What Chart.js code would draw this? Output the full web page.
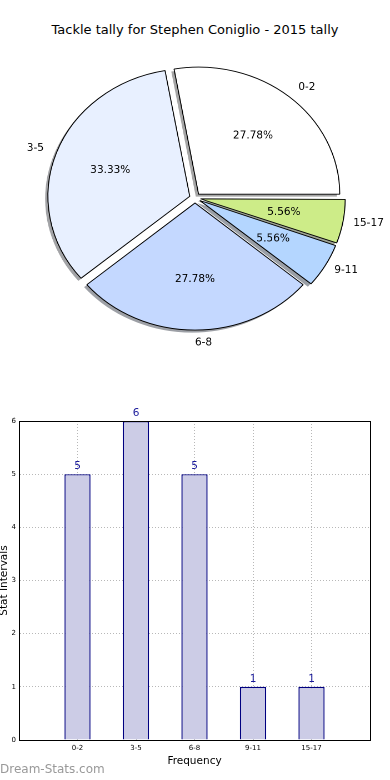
<!DOCTYPE html>
<html>
<head>
<meta charset="utf-8">
<script src="https://cdn.jsdelivr.net/npm/chart.js@4.4.0/dist/chart.umd.min.js"></script>
<style>
  body { margin: 0; background: #fff; width: 390px; height: 780px; position: relative; overflow: hidden; font-family: 'DejaVu Sans', sans-serif; }
  #titulo { position: absolute; left: 0; top: 21px; width: 390px; text-align: center; font-size: 13px; line-height: 18px; color: #000; }
  #pieBox { position: absolute; left: 0; top: 0; width: 351px; height: 400px; transform: scaleX(1.111); transform-origin: 0 0; }
  #barBox { position: absolute; left: 0; top: 400px; width: 390px; height: 380px; }
  #marca { position: absolute; left: 0; top: 762px; font-size: 12px; color: #999; }
</style>
</head>
<body>
<div id="titulo">Tackle tally for Stephen Coniglio - 2015 tally</div>
<div id="pieBox"><canvas id="pizza"></canvas></div>
<div id="barBox"><canvas id="barras"></canvas></div>
<div id="marca">Dream-Stats.com</div>
<script>
    const categorias = ['0-2', '3-5', '6-8', '9-11', '15-17'];
    const frequencias = [5, 6, 5, 1, 1];
    const coresPizza = ['#ffffff', '#e8f0ff', '#c4d8ff', '#b4d6ff', '#cdec88'];
    const ticksY = [0, 1, 2, 3, 4, 5, 6];

    const SX = 1.111; // pie is stretched horizontally like the original
    const OFFSET = 20; // chart.js divides arc offset by 4
    Chart.defaults.font.family = "'DejaVu Sans', sans-serif";
    Chart.defaults.color = '#000';

    // pie draws clockwise, the original goes counter-clockwise: reverse the order
    const ordemPizza = categorias.map((c, i) => i).reverse();
    const total = frequencias.reduce((a, b) => a + b, 0);

    function sombraDe(hex) {
      const n = parseInt(hex.slice(1), 16);
      const r = Math.round(((n >> 16) & 255) * 0.3), g = Math.round(((n >> 8) & 255) * 0.3), b = Math.round((n & 255) * 0.3);
      return `rgba(${r},${g},${b},0.5)`;
    }

    function textoReto(ctx, x, y, txt, align) {
      ctx.save();
      ctx.translate(x, y);
      ctx.scale(1 / SX, 1);
      ctx.textAlign = align;
      ctx.textBaseline = 'middle';
      ctx.fillText(txt, 0, 0);
      ctx.restore();
    }

    const sombraPizza = {
      id: 'sombraPizza',
      beforeDatasetsDraw(chart) {
        const ctx = chart.ctx;
        chart.getDatasetMeta(0).data.forEach((arc, i) => {
          const p = arc.getProps(['x', 'y', 'startAngle', 'endAngle', 'outerRadius', 'circumference'], true);
          const eff = arc.options.offset / 4;
          const meio = (p.startAngle + p.endAngle) / 2;
          const fix = 1 - Math.sin(Math.min(Math.PI, p.circumference));
          const cx = p.x + Math.cos(meio) * eff - 2.5, cy = p.y + Math.sin(meio) * eff + 2.5;
          ctx.save();
          ctx.fillStyle = sombraDe(arc.options.backgroundColor);
          ctx.beginPath();
          ctx.moveTo(cx, cy);
          ctx.arc(cx, cy, p.outerRadius + eff * fix, p.startAngle, p.endAngle);
          ctx.closePath();
          ctx.fill();
          ctx.restore();
        });
      }
    };

    const rotulosPizza = {
      id: 'rotulosPizza',
      afterDatasetsDraw(chart) {
        const ctx = chart.ctx;
        ctx.save();
        ctx.fillStyle = '#000';
        ctx.font = "10.5px 'DejaVu Sans'";
        chart.getDatasetMeta(0).data.forEach((arc, i) => {
          const p = arc.getProps(['x', 'y', 'startAngle', 'endAngle', 'outerRadius'], true);
          const eff = arc.options.offset / 4;
          const meio = (p.startAngle + p.endAngle) / 2;
          const cos = Math.cos(meio), sin = Math.sin(meio);
          const k = ordemPizza[i];
          const pct = (frequencias[k] / total * 100).toFixed(2) + '%';
          textoReto(ctx, p.x + cos * (p.outerRadius * 0.6 + eff), p.y + sin * (p.outerRadius * 0.6 + eff), pct, 'center');
          textoReto(ctx, p.x + cos * (p.outerRadius * 1.1 + eff), p.y + sin * (p.outerRadius * 1.1 + eff), categorias[k], cos >= -0.01 ? 'left' : 'right');
        });
        ctx.restore();
      }
    };

    new Chart(document.getElementById('pizza'), {
      type: 'pie',
      data: {
        labels: ordemPizza.map(i => categorias[i]),
        datasets: [{
          data: ordemPizza.map(i => frequencias[i]),
          backgroundColor: ordemPizza.map(i => coresPizza[i]),
          borderColor: '#000',
          borderWidth: 0.9,
          offset: OFFSET,
          rotation: 90,
          radius: 127
        }]
      },
      options: {
        responsive: true,
        maintainAspectRatio: false,
        animation: false,
        devicePixelRatio: 2,
        layout: { padding: { bottom: 4 } },
        plugins: { legend: { display: false }, tooltip: { enabled: false } }
      },
      plugins: [sombraPizza, rotulosPizza]
    });

    const moldura = {
      id: 'moldura',
      afterDraw(chart) {
        const { ctx, chartArea: a } = chart;
        ctx.save();
        ctx.strokeStyle = '#000';
        ctx.lineWidth = 1;
        ctx.strokeRect(Math.round(a.left) + 0.5, Math.round(a.top) + 0.5, Math.round(a.right - a.left), Math.round(a.bottom - a.top));
        ctx.restore();
      }
    };

    const valoresBarras = {
      id: 'valoresBarras',
      afterDatasetsDraw(chart) {
        const ctx = chart.ctx;
        ctx.save();
        ctx.fillStyle = '#1a1a9a';
        ctx.font = "10.5px 'DejaVu Sans'";
        ctx.textAlign = 'center';
        ctx.textBaseline = 'alphabetic';
        chart.getDatasetMeta(0).data.forEach((bar, i) => {
          ctx.fillText(String(frequencias[i]), bar.x, bar.y - 5);
        });
        ctx.restore();
      }
    };

    new Chart(document.getElementById('barras'), {
      type: 'bar',
      data: {
        datasets: [{
          data: frequencias.map((v, i) => ({ x: i, y: v })),
          backgroundColor: '#cccce6',
          borderColor: '#000080',
          borderWidth: 1.4,
          categoryPercentage: 1,
          barPercentage: 0.45
        }]
      },
      options: {
        responsive: true,
        maintainAspectRatio: false,
        animation: false,
        layout: { padding: { top: 21, right: 20, left: 0, bottom: 0 } },
        plugins: { legend: { display: false }, tooltip: { enabled: false } },
        scales: {
          x: {
            type: 'linear', min: -1, max: 5, offset: false,
            afterFit(a) { a.height = 40; },
            ticks: { stepSize: 1, autoSkip: false, maxRotation: 0, padding: 4, font: { size: 7 }, callback: v => categorias[v] || '' },
            grid: { color: '#b8b8b8', drawTicks: false, offset: false },
            border: { color: '#000', dash: [1, 2] },
            title: { display: true, text: 'Frequency', font: { size: 10.5 }, padding: { top: 0, bottom: 12 } }
          },
          y: {
            min: 0, max: 6,
            afterFit(a) { a.width = 19; },
            ticks: { stepSize: 1, padding: 3, font: { size: 7 }, callback: v => ticksY.includes(v) ? v : '' },
            grid: { color: '#b8b8b8', drawTicks: false },
            border: { color: '#000', dash: [1, 2] },
            title: { display: true, text: 'Stat Intervals', font: { size: 10.5 }, padding: { top: -2, bottom: 0 } }
          }
        }
      },
      plugins: [moldura, valoresBarras]
    });
</script>
</body>
</html>
